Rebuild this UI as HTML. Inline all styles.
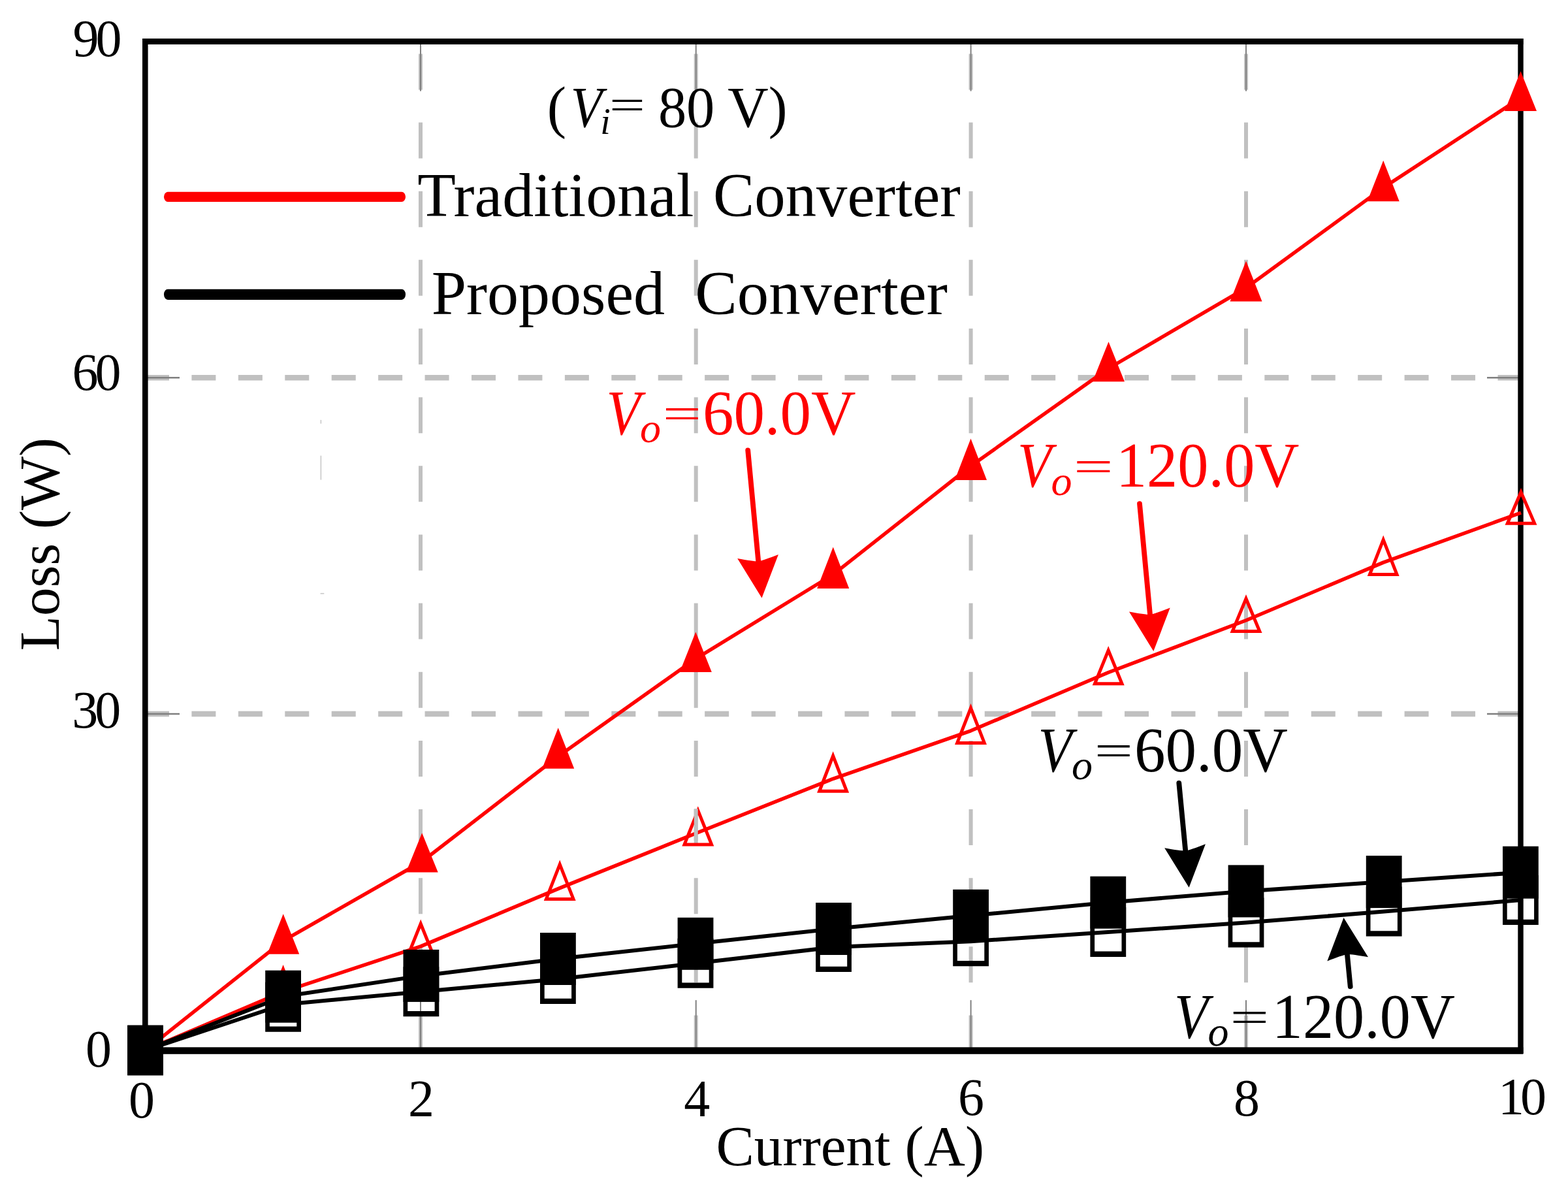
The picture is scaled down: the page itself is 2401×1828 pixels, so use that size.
<!DOCTYPE html>
<html><head><meta charset="utf-8"><title>Loss vs Current</title>
<style>html,body{margin:0;padding:0;background:#fff;}svg{display:block;}</style>
</head><body>
<svg width="2401" height="1828" viewBox="0 0 2401 1828">
<rect width="2401" height="1828" fill="#fff"/>
<g stroke="#c0c0c0" fill="none">
<line x1="222" y1="578.3" x2="2328" y2="578.3" stroke-width="8.5" stroke-dasharray="37 34.43"/>
<line x1="222" y1="1093" x2="2328" y2="1093" stroke-width="8.5" stroke-dasharray="37 34.43"/>
<line x1="644.0" y1="1609.5" x2="644.0" y2="63.5" stroke-width="6" stroke-dasharray="55 50.15"/>
<line x1="1065.7" y1="1609.5" x2="1065.7" y2="63.5" stroke-width="6" stroke-dasharray="55 50.15"/>
<line x1="1486.6" y1="1609.5" x2="1486.6" y2="63.5" stroke-width="6" stroke-dasharray="55 50.15"/>
<line x1="1908" y1="1609.5" x2="1908" y2="63.5" stroke-width="6" stroke-dasharray="55 50.15"/>
</g>
<g stroke="#7f7f7f" fill="none">
<line x1="222" y1="578.3" x2="275" y2="578.3" stroke-width="2.6"/>
<line x1="2328" y1="578.3" x2="2277" y2="578.3" stroke-width="2.6"/>
<line x1="222" y1="1093" x2="275" y2="1093" stroke-width="2.6"/>
<line x1="2328" y1="1093" x2="2277" y2="1093" stroke-width="2.6"/>
<line x1="644.0" y1="1608.2" x2="644.0" y2="1531.2" stroke-width="2"/>
<line x1="644.0" y1="63.5" x2="644.0" y2="139.5" stroke-width="2"/>
<line x1="1065.7" y1="1608.2" x2="1065.7" y2="1531.2" stroke-width="2"/>
<line x1="1065.7" y1="63.5" x2="1065.7" y2="139.5" stroke-width="2"/>
<line x1="1486.6" y1="1608.2" x2="1486.6" y2="1531.2" stroke-width="2"/>
<line x1="1486.6" y1="63.5" x2="1486.6" y2="139.5" stroke-width="2"/>
<line x1="1908" y1="1608.2" x2="1908" y2="1531.2" stroke-width="2"/>
<line x1="1908" y1="63.5" x2="1908" y2="139.5" stroke-width="2"/>
</g>
<g style="font-family:'Liberation Serif','Times New Roman',serif" fill="#000">
<text x="111.4" y="86.2" font-size="80" letter-spacing="-5">90</text>
<text x="110.6" y="597.2" font-size="80" letter-spacing="-5">60</text>
<text x="110.2" y="1114.2" font-size="80" letter-spacing="-5">30</text>
<text x="131.0" y="1633.2" font-size="80" letter-spacing="0">0</text>
<text x="197.0" y="1711.2" font-size="80" letter-spacing="0">0</text>
<text x="624.9" y="1709.0" font-size="80" letter-spacing="0">2</text>
<text x="1047.3" y="1709.0" font-size="80" letter-spacing="0">4</text>
<text x="1467.0" y="1707.2" font-size="80" letter-spacing="0">6</text>
<text x="1889.0" y="1708.2" font-size="80" letter-spacing="0">8</text>
<text x="2294.0" y="1705.8" font-size="80" letter-spacing="-6">10</text>
<text x="1096.4" y="1784.2" font-size="87.5">Current (A)</text>
<text transform="translate(89.6 996.2) rotate(-90)" font-size="87">Loss (W)</text>
<text x="837.8" y="194.3" font-size="88">(</text>
<text transform="translate(873.87 194.3) scale(0.9 1)" font-size="88" font-style="italic">V</text>
<text x="919.3" y="205.2" font-size="56" font-style="italic">i</text>
<text transform="translate(932.95 183.26) scale(1.106 0.74)" font-size="88">=</text>
<text transform="translate(1007.91 194.3) scale(0.982 1)" font-size="88" xml:space="preserve">80 V)</text>
<text x="639.3" y="330.8" font-size="96">Traditional</text>
<text transform="translate(1092.12 330.8) scale(0.987 1)" font-size="96">Converter</text>
<text x="660.7" y="480.6" font-size="96">Proposed</text>
<text transform="translate(1064.34 480.6) scale(1.007 1)" font-size="96">Converter</text>
<g fill="#ff0000">
<text transform="translate(928.54 664.60) scale(0.88 1)" font-size="97" font-style="italic">V</text>
<text x="980.1" y="677.1" font-size="64" font-style="italic">o</text>
<text transform="translate(1014.78 655.93) scale(1.081 0.7)" font-size="97">=</text>
<text transform="translate(1075.92 664.60) scale(0.9790 1)" font-size="97">60.0V</text>
</g>
<g fill="#ff0000">
<text transform="translate(1558.04 745.40) scale(0.88 1)" font-size="97" font-style="italic">V</text>
<text x="1609.6" y="757.9" font-size="64" font-style="italic">o</text>
<text transform="translate(1644.05 736.73) scale(1.108 0.7)" font-size="97">=</text>
<text transform="translate(1708.90 745.40) scale(0.9735 1)" font-size="97">120.0V</text>
</g>
<g fill="#000">
<text transform="translate(1589.54 1180.50) scale(0.88 1)" font-size="97" font-style="italic">V</text>
<text x="1641.1" y="1193.0" font-size="64" font-style="italic">o</text>
<text transform="translate(1675.78 1171.83) scale(1.081 0.7)" font-size="97">=</text>
<text transform="translate(1736.91 1180.50) scale(0.9802 1)" font-size="97">60.0V</text>
</g>
<g fill="#000">
<text transform="translate(1798.04 1588.80) scale(0.88 1)" font-size="97" font-style="italic">V</text>
<text x="1849.6" y="1601.3" font-size="64" font-style="italic">o</text>
<text transform="translate(1883.53 1580.13) scale(1.090 0.7)" font-size="97">=</text>
<text transform="translate(1947.81 1588.80) scale(0.9721 1)" font-size="97">120.0V</text>
</g>
</g>
<g stroke="#c8c8c8" stroke-width="1.6">
<line x1="491.4" y1="642.9" x2="491.4" y2="648.6"/>
<line x1="491.4" y1="697.6" x2="491.4" y2="734.6"/>
<line x1="490.6" y1="908.7" x2="496.3" y2="908.7"/>
</g>
<g fill="#000">
<rect x="218" y="59" width="8.6" height="1554"/>
<rect x="2324.3" y="59" width="8.4" height="1554"/>
<rect x="218" y="59" width="2114.4" height="9"/>
<rect x="218" y="1603.3" width="2114.4" height="10.5"/>
</g>
<polyline points="222.5,1608.0 433.7,1440.3 646.2,1319.0 854.7,1158.0 1065.3,1008.6 1275.7,879.6 1486.5,713.5 1697.5,564.0 1908.0,440.8 2118.2,287.4 2328.5,149.8" fill="none" stroke="#ff0000" stroke-width="5.5" stroke-linejoin="round"/>
<polyline points="222.5,1608.0 433.6,1518.3 644.2,1448.9 857.2,1359.6 1068.8,1274.5 1275.6,1192.3 1486.5,1118.8 1697.2,1029.5 1908.0,949.8 2118.2,861.1 2329.0,785.0" fill="none" stroke="#ff0000" stroke-width="5.5" stroke-linejoin="round"/>
<polygon points="433.7,1399.3 458.2,1460.7 409.2,1460.7" fill="#ff0000"/>
<polygon points="646.2,1275.2 670.7,1335.5 621.7,1335.5" fill="#ff0000"/>
<polygon points="854.7,1114.2 879.2,1176.7 830.2,1176.7" fill="#ff0000"/>
<polygon points="1065.3,967.6 1089.8,1029.0 1040.8,1029.0" fill="#ff0000"/>
<polygon points="1275.7,837.6 1300.2,901.0 1251.2,901.0" fill="#ff0000"/>
<polygon points="1486.5,671.4 1511.0,735.0 1462.0,735.0" fill="#ff0000"/>
<polygon points="1697.5,523.2 1722.0,584.3 1673.0,584.3" fill="#ff0000"/>
<polygon points="1908.0,399.6 1932.5,461.4 1883.5,461.4" fill="#ff0000"/>
<polygon points="2118.2,245.8 2142.7,308.3 2093.7,308.3" fill="#ff0000"/>
<polygon points="2328.5,109.0 2353.0,170.0 2304.0,170.0" fill="#ff0000"/>
<polygon points="433.6,1483.8 454.4,1536.5 412.8,1536.5" fill="none" stroke="#ff0000" stroke-width="5"/>
<polygon points="644.2,1414.3 665.0,1466.1 623.4,1466.1" fill="none" stroke="#ff0000" stroke-width="5"/>
<polygon points="857.2,1323.4 878.0,1376.4 836.4,1376.4" fill="none" stroke="#ff0000" stroke-width="5"/>
<polygon points="1068.8,1240.9 1089.6,1292.9 1048.0,1292.9" fill="none" stroke="#ff0000" stroke-width="5"/>
<polygon points="1275.6,1157.2 1296.5,1211.3 1254.7,1211.3" fill="none" stroke="#ff0000" stroke-width="5"/>
<polygon points="1486.5,1084.0 1507.3,1137.4 1465.7,1137.4" fill="none" stroke="#ff0000" stroke-width="5"/>
<polygon points="1697.2,995.6 1718.0,1046.8 1676.4,1046.8" fill="none" stroke="#ff0000" stroke-width="5"/>
<polygon points="1908.0,916.5 1928.8,966.5 1887.2,966.5" fill="none" stroke="#ff0000" stroke-width="5"/>
<polygon points="2118.2,826.4 2139.0,879.5 2097.4,879.5" fill="none" stroke="#ff0000" stroke-width="5"/>
<polygon points="2329.0,753.4 2349.7,801.2 2308.3,801.2" fill="none" stroke="#ff0000" stroke-width="5"/>
<line x1="1065.7" y1="1238.2" x2="1065.7" y2="1286.8" stroke="#c0c0c0" stroke-width="6"/>
<polyline points="222.5,1608.0 433.6,1525.7 644.9,1493.9 854.4,1468.0 1065.0,1444.8 1276.5,1422.0 1486.6,1401.8 1696.8,1381.7 1908.0,1364.4 2119.2,1350.1 2328.4,1335.7" fill="none" stroke="#000" stroke-width="6" stroke-linejoin="round"/>
<polyline points="222.5,1608.0 433.6,1538.0 644.9,1518.2 854.4,1499.0 1065.0,1474.8 1276.5,1450.1 1486.6,1441.2 1696.8,1426.9 1908.0,1412.6 2119.2,1395.6 2328.4,1378.0" fill="none" stroke="#000" stroke-width="6" stroke-linejoin="round"/>
<path d="M195.1,1570.0h54.8v76h-54.8z M201.8,1578.3v59.4h41.4v-59.4z" fill="#000" fill-rule="evenodd"/>
<path d="M406.2,1503.7h54.8v76h-54.8z M412.9,1512.0v59.4h41.4v-59.4z" fill="#000" fill-rule="evenodd"/>
<path d="M617.5,1480.2h54.8v76h-54.8z M624.2,1488.5v59.4h41.4v-59.4z" fill="#000" fill-rule="evenodd"/>
<path d="M827.0,1461.0h54.8v76h-54.8z M833.7,1469.3v59.4h41.4v-59.4z" fill="#000" fill-rule="evenodd"/>
<path d="M1037.6,1436.8h54.8v76h-54.8z M1044.3,1445.1v59.4h41.4v-59.4z" fill="#000" fill-rule="evenodd"/>
<path d="M1249.1,1412.1h54.8v76h-54.8z M1255.8,1420.4v59.4h41.4v-59.4z" fill="#000" fill-rule="evenodd"/>
<path d="M1459.2,1403.2h54.8v76h-54.8z M1465.9,1411.5v59.4h41.4v-59.4z" fill="#000" fill-rule="evenodd"/>
<path d="M1669.4,1388.9h54.8v76h-54.8z M1676.1,1397.2v59.4h41.4v-59.4z" fill="#000" fill-rule="evenodd"/>
<path d="M1880.6,1374.6h54.8v76h-54.8z M1887.3,1382.9v59.4h41.4v-59.4z" fill="#000" fill-rule="evenodd"/>
<path d="M2091.8,1357.6h54.8v76h-54.8z M2098.5,1365.9v59.4h41.4v-59.4z" fill="#000" fill-rule="evenodd"/>
<path d="M2301.0,1340.0h54.8v76h-54.8z M2307.7,1348.3v59.4h41.4v-59.4z" fill="#000" fill-rule="evenodd"/>
<rect x="195.1" y="1569.5" width="54.8" height="77.0" fill="#000"/>
<rect x="406.2" y="1485.7" width="54.8" height="80" fill="#000"/>
<rect x="617.5" y="1453.9" width="54.8" height="80" fill="#000"/>
<rect x="827.0" y="1428.0" width="54.8" height="80" fill="#000"/>
<rect x="1037.6" y="1404.8" width="54.8" height="80" fill="#000"/>
<rect x="1249.1" y="1382.0" width="54.8" height="80" fill="#000"/>
<rect x="1459.2" y="1361.8" width="54.8" height="80" fill="#000"/>
<rect x="1669.4" y="1341.7" width="54.8" height="80" fill="#000"/>
<rect x="1880.6" y="1324.4" width="54.8" height="80" fill="#000"/>
<rect x="2091.8" y="1310.1" width="54.8" height="80" fill="#000"/>
<rect x="2301.0" y="1295.7" width="54.8" height="80" fill="#000"/>
<rect x="251" y="293.8" width="370" height="15.2" rx="6" ry="7.5" fill="#ff0000"/>
<rect x="251" y="442.7" width="370" height="16.2" rx="6" ry="8" fill="#000"/>
<g transform="translate(1145.2 689.4) rotate(84.61)" fill="#ff0000">
<line x1="0" y1="0" x2="177.0" y2="0" stroke="#ff0000" stroke-width="7.8" stroke-linecap="round"/>
<path d="M227.0,0 L163.3,31.5 Q170.0,8 170.7,0 Q170.0,-8 163.3,-31.5 Z"/>
</g>
<g transform="translate(1745.0 771.2) rotate(84.60)" fill="#ff0000">
<line x1="0" y1="0" x2="176.7" y2="0" stroke="#ff0000" stroke-width="7.8" stroke-linecap="round"/>
<path d="M226.7,0 L163.0,31.5 Q169.7,8 170.4,0 Q169.7,-8 163.0,-31.5 Z"/>
</g>
<g transform="translate(1805.3 1198.8) rotate(84.52)" fill="#000">
<line x1="0" y1="0" x2="110.6" y2="0" stroke="#000" stroke-width="7.8" stroke-linecap="round"/>
<path d="M160.6,0 L96.9,31.5 Q103.6,8 104.3,0 Q103.6,-8 96.9,-31.5 Z"/>
</g>
<g transform="translate(2067.7 1510.3) rotate(-95.54)" fill="#000">
<line x1="0" y1="0" x2="55.8" y2="0" stroke="#000" stroke-width="7.8" stroke-linecap="round"/>
<path d="M105.8,0 L42.1,31.5 Q48.8,8 49.5,0 Q48.8,-8 42.1,-31.5 Z"/>
</g>
</svg>
</body></html>
